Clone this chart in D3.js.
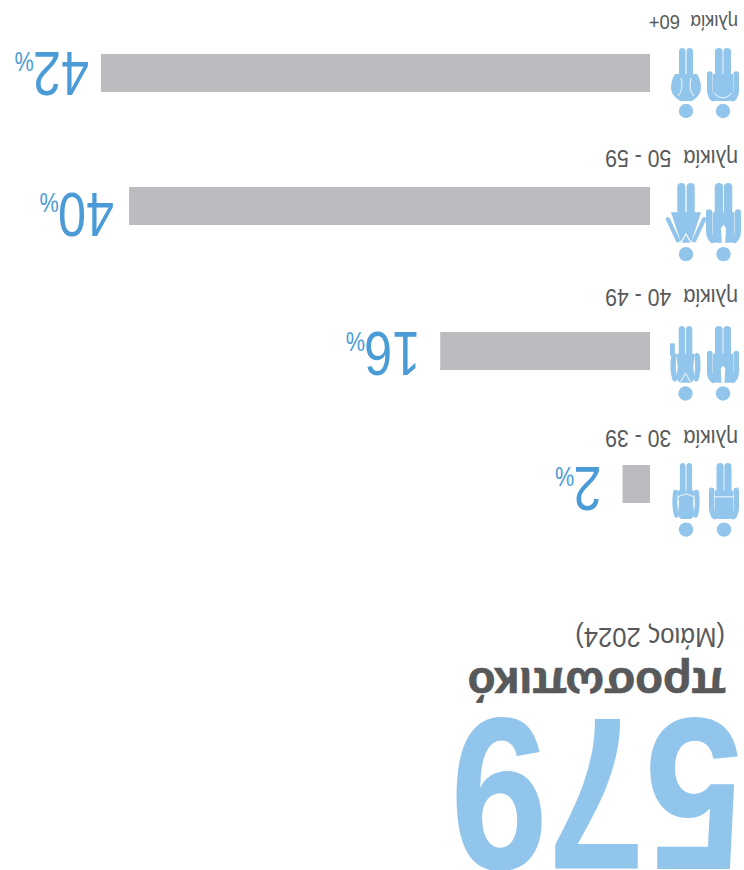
<!DOCTYPE html>
<html><head><meta charset="utf-8">
<style>html,body{margin:0;padding:0;background:#fff;overflow:hidden}svg{display:block}text{white-space:pre}</style>
<script src="https://cdn.jsdelivr.net/npm/d3@7"></script></head><body>
<svg id="c" width="744" height="870"></svg>
<script>
const ages = ["30 - 39","40 - 49","50 - 59","60+"];
const ageLabels = ["ηλικία  30 - 39","ηλικία  40 - 49","ηλικία  50 - 59","ηλικία  60+"];
const shares = [2.1,16.05,39.85,42];
const total = "579";
const titleText = "προσωπικό";
const dateText = "(Μάιος 2024)";
const blue="#92c5eb", dark="#4a9bd6", grey="#bbbcc0", txt="#58595b";
const font="'Liberation Sans',sans-serif";

const svg=d3.select("#c");
const g=svg.append("g").attr("transform","rotate(180 372 435)");

const x=d3.scaleLinear().domain([0,42]).range([94,643]);
const barTop=d3.scaleOrdinal(ages,[367,500,645,778]);
const labelBase=d3.scaleOrdinal(ages,[440,581,720,855]);
const numBase=d3.scaleOrdinal(ages,[403,538,677,818]);
const numGap=d3.scaleOrdinal(ages,[21,20,15,12]);
const iconTop=d3.scaleOrdinal(ages,[333,469,608,752]);
const iconH=d3.scaleOrdinal(ages,[74,75,79,70]);
const labelSize=d3.scaleOrdinal(ages,[23,23,23,20]);
const manBox=d3.scaleOrdinal(ages,[[5,30],[5,32],[3,35],[5,32]]);
const womanBox=d3.scaleOrdinal(ages,[[44,28],[43,31],[38,40],[42,32]]);

// header
g.append("text").attr("x",1).attr("y",151).attr("font-family",font).attr("font-weight",700)
 .attr("font-size",218).attr("fill",blue).attr("textLength",293).attr("lengthAdjust","spacingAndGlyphs").text(total);
g.append("text").attr("x",18).attr("y",202).attr("font-family",font).attr("font-weight",700)
 .attr("font-size",45.5).attr("fill",txt).attr("stroke",txt).attr("stroke-width",0.7).text(titleText);
g.append("text").attr("transform","translate(19,242) scale(0.95,1)").attr("font-family",font).attr("font-size",27).attr("fill",txt).text(dateText);

const fmt=d3.format(".0f");
const rows=g.selectAll("g.row").data(ages.map((a,i)=>({a,label:ageLabels[i],v:shares[i],i}))).join("g").attr("class","row");
rows.append("rect").attr("x",x(0)).attr("y",d=>barTop(d.a)).attr("width",d=>x(d.v)-x(0)).attr("height",38).attr("fill",grey);
rows.append("text").attr("transform",d=>`translate(6,${labelBase(d.a)}) scale(0.925,1)`).attr("font-family",font).attr("font-size",d=>labelSize(d.a)).attr("fill",txt).text(d=>d.label);
const nums=rows.append("text").attr("transform",d=>`translate(${x(d.v)+numGap(d.a)},${numBase(d.a)}) scale(0.8,1)`).attr("font-family",font).attr("font-size",63).attr("fill",dark);
nums.append("tspan").text(d=>fmt(d.v));
nums.append("tspan").attr("font-size",27).attr("dx",-1).text("%");

// pictograms, local box 32 x 70
const man={
 legs:"M8,40H15.6V66.5a3.8,3.5 0 0 1-7.6,0Z M16.4,40H24V66.5a3.8,3.5 0 0 1-7.6,0Z",
 torso:"M10,17H22Q26,17 26,22V44H6V22Q6,17 10,17Z",
 arms:"M6,19.5Q2.8,22 2.8,28V44 M26,19.5Q29.2,22 29.2,28V44"
};
const woman={
 legs:"M9,40H15.5V66.5a3.25,3.5 0 0 1-6.5,0Z M16.5,40H23V66.5a3.25,3.5 0 0 1-6.5,0Z",
 torso:"M11,17H21Q25,18 25,24L24,32L25.5,44H6.5L8,32L7,24Q7,18 11,17Z",
 arms:"M5,21Q2,30 4,42 M27,21Q30,30 28,42"
};
const details={
 "30 - 39":{m:["M5,38H27"],w:["M7,38L16,41L25,38"]},
 "40 - 49":{tie:true,w:["M11,18L16,26L21,18"],bag:true},
 "50 - 59":{tie:true,w:["M12,17L16,25L20,17"],dress:true},
 "60+":{m:["M7,25Q16,15 25,25"],w:["M8,22Q14,28 11,40 M24,22Q18,28 21,40"],sweater:true}
};
function person(sel,shape,det,box,a,kind){
 const h=iconH(a), s=d3.select(sel), sx=box[1]/32, sy=h/70;
 const ic=s.append("g").attr("transform",`translate(${box[0]},${iconTop(a)}) scale(${sx},${sy})`);
 ic.append("ellipse").attr("cx",16).attr("cy",7).attr("rx",7.2/sx).attr("ry",7.2/sy).attr("fill",blue);
 ic.append("path").attr("d",shape.legs).attr("fill",blue);
 let torso=shape.torso;
 if(kind==="w"&&det.dress) torso="M12,17H20L28,44H4Z";
 if(kind==="w"&&det.sweater) torso="M10,17H22Q32,23 31,32Q30,40 27,44H5Q2,40 1,32Q0,23 10,17Z";
 ic.append("path").attr("d",torso).attr("fill",blue);
 if(kind==="w"&&det.dress)
  ic.append("path").attr("d","M9.5,19L1.5,38 M22.5,19L30.5,38").attr("fill","none").attr("stroke",blue).attr("stroke-width",3.4).attr("stroke-linecap","round");
 else if(!(kind==="w"&&det.sweater))
  ic.append("path").attr("d",shape.arms).attr("fill","none").attr("stroke",blue).attr("stroke-width",5.6).attr("stroke-linecap","round");
 if(kind==="w"&&det.bag) ic.append("rect").attr("x",27).attr("y",42).attr("width",5).attr("height",12).attr("rx",1).attr("fill",blue);
 if(kind==="m"&&det.tie) ic.append("path").attr("d","M14.5,17H17.5L18.3,30L16,33L13.7,30Z").attr("fill","#fff");
 ic.selectAll("path.d").data(det[kind]||[]).join("path").attr("class","d").attr("d",d=>d)
  .attr("fill","none").attr("stroke","#fff").attr("stroke-width",0.9);
}
rows.each(function(d){
 const det=details[d.a];
 person(this,man,det,manBox(d.a),d.a,"m");
 person(this,woman,det,womanBox(d.a),d.a,"w");
});
</script></body></html>
